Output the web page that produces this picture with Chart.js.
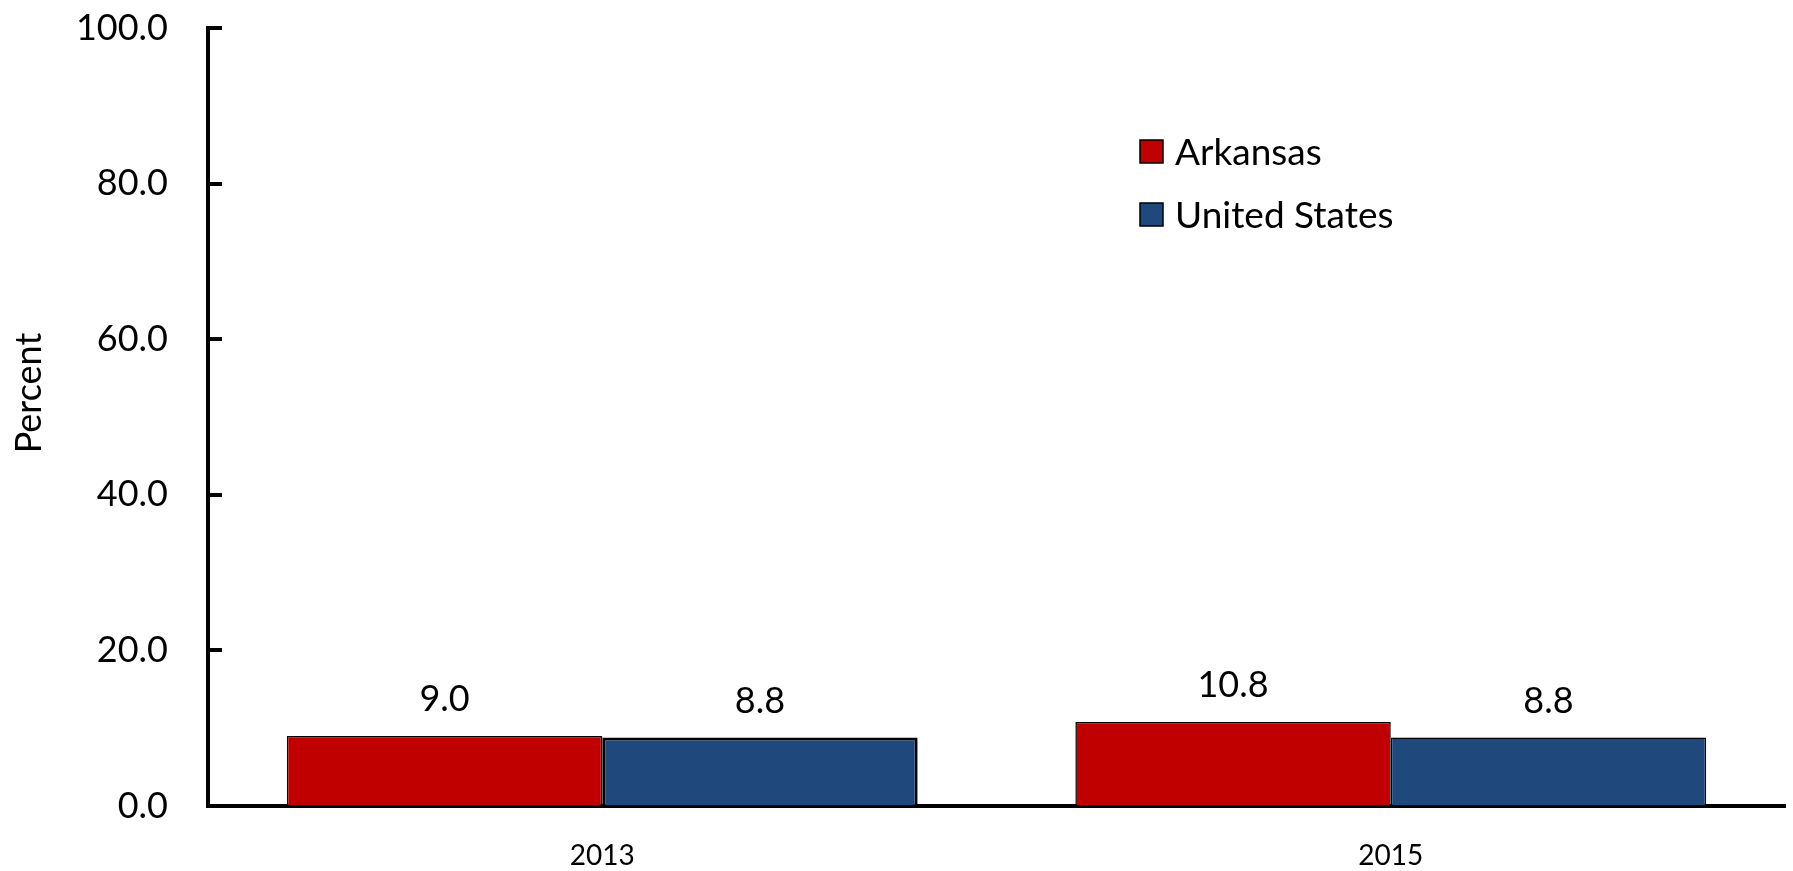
<!DOCTYPE html>
<html><head><meta charset="utf-8">
<script src="https://cdn.jsdelivr.net/npm/chart.js@4"></script>
<style>html,body{margin:0;padding:0;background:#fff;} #wrap{width:1793px;height:871px;position:relative;}</style>
</head><body><div id="wrap"><canvas id="c"></canvas></div>
<script>
const categories = ['2013', '2015'];
const arkansas = [9.0, 10.8];
const unitedStates = [8.8, 8.8];
const seriesNames = ['Arkansas', 'United States'];
const seriesColors = ['#C00000', '#1F497D'];
const yMin = 0, yMax = 100, yStep = 20;
const yTitle = 'Percent';
const FONT = 'Lato, "Open Sans", sans-serif';

const extras = {
  id: 'extras',
  afterDatasetsDraw(chart) {
    const ctx = chart.ctx;
    ctx.save();
    ctx.fillStyle = '#000';
    ctx.font = '36px ' + FONT;
    ctx.textAlign = 'center';
    ctx.textBaseline = 'alphabetic';
    chart.data.datasets.forEach((ds, i) => {
      const meta = chart.getDatasetMeta(i);
      meta.data.forEach((el, j) => {
        ctx.fillText(ds.data[j].toFixed(1), el.x, el.y - 25);
      });
    });
    ctx.restore();
  },
  afterDraw(chart) {
    const ctx = chart.ctx;
    const y = chart.scales.y;
    const left = chart.chartArea.left;
    ctx.save();
    ctx.strokeStyle = '#000';
    ctx.lineWidth = 4;
    y.ticks.forEach(t => {
      const py = Math.round(y.getPixelForValue(t.value));
      ctx.beginPath();
      ctx.moveTo(left, py);
      ctx.lineTo(left + 14, py);
      ctx.stroke();
    });
    ctx.fillStyle = '#000';
    ctx.font = '36px ' + FONT;
    ctx.translate(29, 393);
    ctx.rotate(-Math.PI / 2);
    ctx.textAlign = 'center';
    ctx.textBaseline = 'middle';
    ctx.fillText(yTitle, 0, 0);
    ctx.restore();
    ctx.save();
    ctx.font = '37px ' + FONT;
    ctx.textBaseline = 'middle';
    ctx.textAlign = 'left';
    const ly = [152, 215];
    chart.data.datasets.forEach((ds, i) => {
      ctx.fillStyle = ds.backgroundColor;
      ctx.fillRect(1140, ly[i] - 12, 23, 23);
      ctx.strokeStyle = '#000';
      ctx.lineWidth = 1.5;
      ctx.strokeRect(1140, ly[i] - 12, 23, 23);
      ctx.fillStyle = '#000';
      ctx.fillText(ds.label, 1175, ly[i] + 1);
    });
    ctx.restore();
  }
};

new Chart(document.getElementById('c'), {
  type: 'bar',
  data: {
    labels: categories,
    datasets: [
      { label: seriesNames[0], data: arkansas, backgroundColor: seriesColors[0], borderColor: '#000', borderWidth: 1.5,
        barPercentage: 1, categoryPercentage: 0.8 },
      { label: seriesNames[1], data: unitedStates, backgroundColor: seriesColors[1], borderColor: '#000', borderWidth: [3, 1.5],
        barPercentage: 1, categoryPercentage: 0.8 }
    ]
  },
  options: {
    responsive: true,
    maintainAspectRatio: false,
    animation: false,
    layout: { padding: { top: 28, right: 8, left: 0, bottom: 0 } },
    plugins: { legend: { display: false }, tooltip: { enabled: false } },
    scales: {
      x: {
        grid: { display: false, drawTicks: false },
        border: { display: true, color: '#000', width: 4 },
        ticks: { color: '#000', font: { family: FONT, size: 28 }, padding: 33 },
        afterFit(scale) { scale.height = 65; }
      },
      y: {
        min: yMin, max: yMax,
        grid: { display: true, drawOnChartArea: false, drawTicks: true, tickLength: 36, tickColor: 'rgba(0,0,0,0)' },
        border: { display: true, color: '#000', width: 4 },
        ticks: { stepSize: yStep, color: '#000', font: { family: FONT, size: 36 }, padding: 4,
                 callback: v => Number(v).toFixed(1) },
        afterFit(scale) { scale.width = 208; }
      }
    }
  },
  plugins: [extras]
});
</script>
</body></html>
